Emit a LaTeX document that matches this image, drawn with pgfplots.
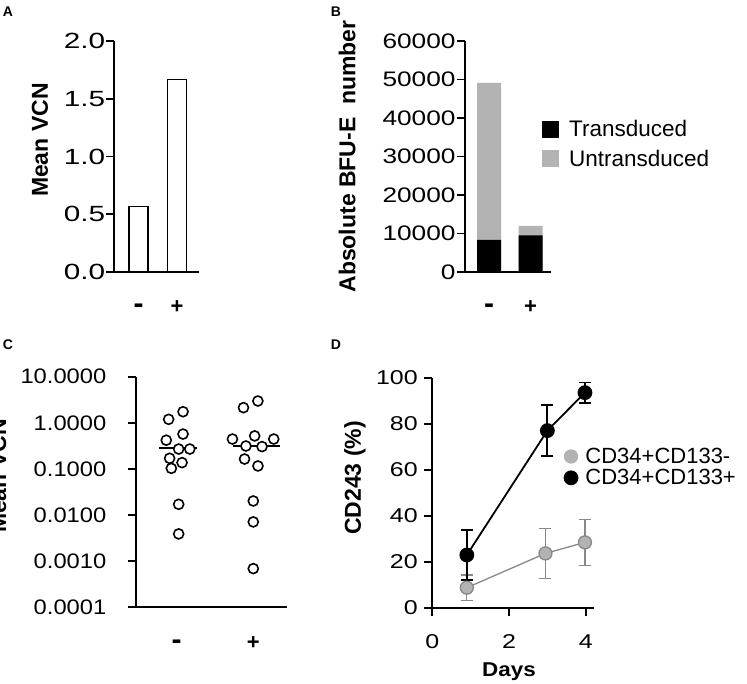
\documentclass[border=0pt]{standalone}
\usepackage{pgfplots}
\pgfplotsset{compat=1.18}
\usepackage{fontspec}
\setmainfont{Liberation Sans}
\definecolor{ltgray}{HTML}{B3B3B3}
\definecolor{midgray}{HTML}{888888}

\tikzset{rotlabel/.style={font=\bfseries\fontsize{23}{23}\selectfont}}
\pgfplotsset{
  panel/.style={
    scale only axis, anchor=south west,
    axis lines*=left,
    axis line style={line width=1.8pt},
    tick align=outside, major tick length=8pt,
    every tick/.style={draw=black, line width=1.8pt},
    clip=false,
  },
  catx/.style={
    xtick={1,2}, xticklabels={{\fontsize{30}{30}\selectfont -},+},
    xtick style={draw=none},
    xticklabel style={anchor=base, yshift=-34pt, font=\bfseries\fontsize{22}{22}\selectfont},
  },
  tk/.style={black, line width=1.8pt, forget plot},
}

\begin{document}
\begin{tikzpicture}

% A
\begin{axis}[panel, catx, at={(114pt,412pt)}, width=85pt, height=231pt,
  xmin=0.36, xmax=2.57, ymin=0, ymax=2,
  ytick={0,0.5,1,1.5,2},
  yticklabels={0.0,0.5,1.0,1.5,2.0},
  yticklabel style={font=\fontsize{22}{22}\selectfont, xscale=1.35, inner sep=0.5pt},
  ylabel={Mean VCN},
  ylabel style={rotlabel, at={(axis description cs:-0.871,0.571)}, anchor=center}]
\addplot[ybar, bar width=0.49, fill=white, draw=black, line width=1.5pt]
  coordinates {(1,0.567) (2,1.666)};
\addplot[tk] coordinates {(0.36,0) (0.152,0)};
\addplot[tk] coordinates {(0.36,0.5) (0.152,0.5)};
\addplot[tk] coordinates {(0.36,1) (0.152,1)};
\addplot[tk] coordinates {(0.36,1.5) (0.152,1.5)};
\addplot[tk] coordinates {(0.36,2) (0.152,2)};
\end{axis}

% B
\begin{axis}[panel, catx,
  at={(465pt,412pt)}, width=86pt, height=231pt,
  xmin=0.42, xmax=2.49, ymin=0, ymax=60000,
  ytick={0,10000,20000,30000,40000,50000,60000}, scaled y ticks=false,
  yticklabels={0,10000,20000,30000,40000,50000,60000},
  yticklabel style={font=\fontsize{21}{21}\selectfont, xscale=1.25, inner sep=1pt},
  ylabel={Absolute BFU-E\ \ number},
  ylabel style={rotlabel, at={(axis description cs:-1.37,0.5)}, anchor=center},
  reverse legend,
  legend cell align=left,
  legend style={draw=none, fill=none, inner sep=0pt, row sep=12pt,
    at={(axis description cs:0.895,0.658)}, anchor=north west,
    font=\fontsize{22.5}{22.5}\selectfont, nodes={inner sep=0pt},
    /tikz/every odd column/.append style={column sep=10pt}}]
% untransduced on top of transduced: total heights
\addplot[ybar, bar width=0.58, bar shift=0pt, fill=ltgray, draw=none,
  legend image code/.code={\fill[ltgray] (0pt,-8.5pt) rectangle (17pt,8.5pt);}]
  coordinates {(1,49120) (2,12000)};
\addlegendentry{Untransduced}
\addplot[ybar, bar width=0.58, bar shift=0pt, fill=black, draw=none,
  legend image code/.code={\fill[black] (0pt,-8.5pt) rectangle (17pt,8.5pt);}]
  coordinates {(1,8370) (2,9500)};
\addlegendentry{Transduced}
\addplot[tk] coordinates {(0.42,0) (0.227,0)};
\addplot[tk] coordinates {(0.42,10000) (0.227,10000)};
\addplot[tk] coordinates {(0.42,20000) (0.227,20000)};
\addplot[tk] coordinates {(0.42,30000) (0.227,30000)};
\addplot[tk] coordinates {(0.42,40000) (0.227,40000)};
\addplot[tk] coordinates {(0.42,50000) (0.227,50000)};
\addplot[tk] coordinates {(0.42,60000) (0.227,60000)};
\end{axis}

% C
\begin{axis}[panel, catx, at={(136pt,76.7pt)}, width=151pt, height=230.6pt,
  xmin=0.469, xmax=2.44, ymode=log, ymin=1e-4, ymax=10,
  ytick={1e-4,1e-3,1e-2,1e-1,1,10},
  yticklabels={0.0001,0.0010,0.0100,0.1000,1.0000,10.0000},
  yminorticks=false,
  yticklabel style={font=\fontsize{21}{21}\selectfont, xscale=1.13, inner ysep=1pt, inner xsep=19pt},
  ylabel={Mean VCN},
  ylabel style={rotlabel, at={(axis description cs:-0.913,0.569)}, anchor=center}]
\addplot[black, line width=1.8pt] coordinates {(0.767,0.28) (1.267,0.28)};
\addplot[black, line width=1.8pt] coordinates {(1.74,0.32) (2.355,0.32)};
\addplot[only marks, mark=*, mark size=5pt,
  mark options={draw=black, fill=white, line width=1.6pt}] coordinates {
  (0.895,1.19) (1.083,1.74) (1.083,0.57) (0.864,0.42) (1.026,0.27)
  (1.171,0.27) (0.908,0.17) (1.07,0.137) (0.93,0.103) (1.026,0.0171)
  (1.026,0.0039)
  (1.872,2.13) (2.06,2.97) (1.728,0.445) (2.018,0.52) (2.267,0.445)
  (1.904,0.314) (2.114,0.305) (1.886,0.164) (2.061,0.116) (2.0,0.0202)
  (2.0,0.0071) (2.0,0.00069)};
\addplot[tk] coordinates {(0.469,0.0001) (0.365,0.0001)};
\addplot[tk] coordinates {(0.469,0.001) (0.365,0.001)};
\addplot[tk] coordinates {(0.469,0.01) (0.365,0.01)};
\addplot[tk] coordinates {(0.469,0.1) (0.365,0.1)};
\addplot[tk] coordinates {(0.469,1) (0.365,1)};
\addplot[tk] coordinates {(0.469,10) (0.365,10)};
\end{axis}

% D
\begin{axis}[panel, at={(432.3pt,76.3pt)}, width=161.7pt, height=230pt,
  xmin=0, xmax=4.216, ymin=0, ymax=100,
  xtick={0,2,4}, ytick={0,20,40,60,80,100},
  xticklabels={0,2,4}, yticklabels={0,20,40,60,80,100},
  ticklabel style={font=\fontsize{20}{20}\selectfont, xscale=1.25},
  yticklabel style={inner sep=1pt, xshift=-4pt},
  xticklabel style={anchor=base, yshift=-33pt},
  xlabel={Days},
  xlabel style={font=\bfseries\fontsize{20}{20}\selectfont, xscale=1.12,
    at={(axis description cs:0.474,-0.278)}, anchor=center},
  ylabel={CD243 (\%)},
  ylabel style={rotlabel, at={(axis description cs:-0.478,0.564)}, anchor=center},
  legend cell align=left,
  legend style={draw=none, fill=none, inner sep=0pt, row sep=4.5pt,
    at={(axis description cs:0.811,0.695)}, anchor=north west,
    font=\fontsize{22}{22}\selectfont, nodes={inner sep=0pt},
    /tikz/every odd column/.append style={column sep=7pt}}]
\addplot[midgray, line width=1.3pt, mark=*, mark size=6.5pt,
  mark options={fill=ltgray, draw=none},
  legend image code/.code={\fill[ltgray] (6.5pt,0pt) circle (6.5pt);},
  error bars/.cd, y dir=both, y explicit,
  error bar style={midgray, line width=1.3pt},
  error mark options={rotate=90, midgray, line width=1.3pt, mark size=6pt}]
  coordinates {(0.9,8.7) +- (0,5.5) (2.95,23.6) +- (0,10.9) (3.98,28.4) +- (0,10)};
\addlegendentry{CD34+CD133-}
\addplot[black, line width=1.8pt, mark=*, mark size=6.5pt,
  mark options={fill=black, draw=none},
  legend image code/.code={\fill[black] (6.5pt,0pt) circle (6.5pt);},
  error bars/.cd, y dir=both, y explicit,
  error bar style={black, line width=1.8pt},
  error mark options={rotate=90, black, line width=1.8pt, mark size=6pt}]
  coordinates {(0.9,22.9) +- (0,11) (3.0,77.0) +- (0,11.2) (3.98,93.5) +- (0,4.4)};
\addlegendentry{CD34+CD133+}
\addplot[tk] coordinates {(0,0) (-0.209,0)};
\addplot[tk] coordinates {(0,20) (-0.209,20)};
\addplot[tk] coordinates {(0,40) (-0.209,40)};
\addplot[tk] coordinates {(0,60) (-0.209,60)};
\addplot[tk] coordinates {(0,80) (-0.209,80)};
\addplot[tk] coordinates {(0,100) (-0.209,100)};
\addplot[tk] coordinates {(0,0) (0,-3.48)};
\addplot[tk] coordinates {(2,0) (2,-3.48)};
\addplot[tk] coordinates {(4,0) (4,-3.48)};
\end{axis}

\node[font=\bfseries\fontsize{14}{14}\selectfont] at (8pt,672pt) {A};
\node[font=\bfseries\fontsize{14}{14}\selectfont] at (336pt,672pt) {B};
\node[font=\bfseries\fontsize{14}{14}\selectfont] at (8pt,339pt) {C};
\node[font=\bfseries\fontsize{14}{14}\selectfont] at (336pt,339pt) {D};
\pgfresetboundingbox
\useasboundingbox (0pt,0pt) rectangle (747pt,684pt);
\end{tikzpicture}
\end{document}
